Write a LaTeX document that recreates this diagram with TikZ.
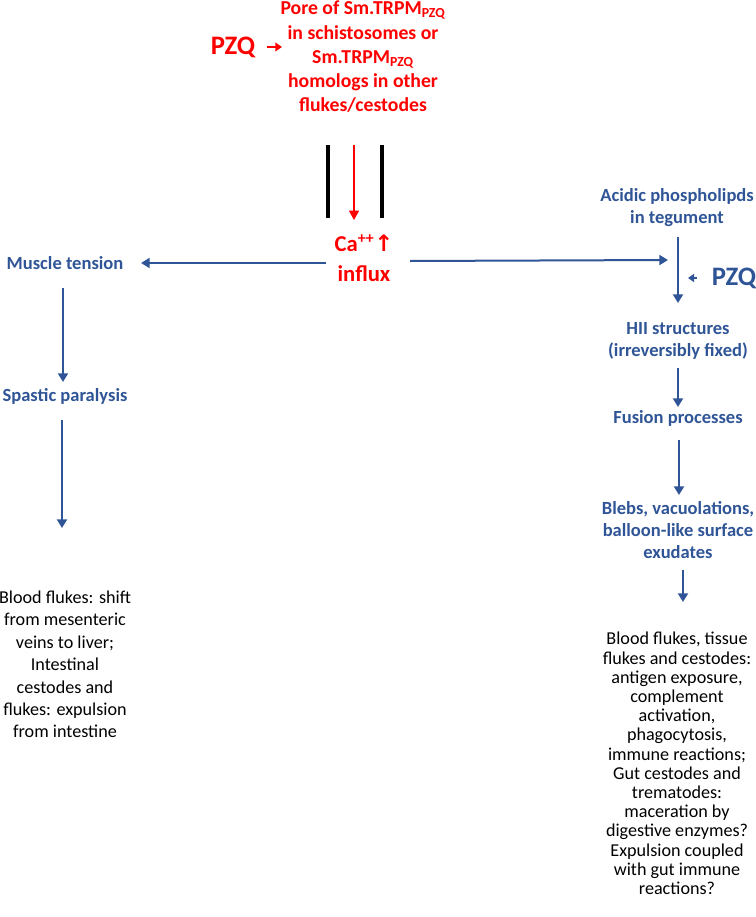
\documentclass[tikz,border=0pt]{standalone}
\usepackage{fontspec}
\setmainfont{Carlito}
\newfontfamily\dejavu{DejaVu Sans}
\usetikzlibrary{arrows.meta,calc}
\definecolor{myblue}{HTML}{2F5597}
\definecolor{myred}{HTML}{FF0000}
\begin{document}
\begin{tikzpicture}[x=0.75pt,y=-0.75pt,
  bluelbl/.style={text=myblue, font=\bfseries\fontsize{13.9}{16.5}\selectfont, align=center, inner sep=0pt},
  redlbl/.style={text=myred, font=\bfseries\fontsize{14.8}{18.2}\selectfont, align=center, inner sep=0pt},
  bigpzq/.style={font=\bfseries\fontsize{20}{24}\selectfont, inner sep=0pt},
  lefttxt/.style={text=black, font=\fontsize{13.6}{16.8}\selectfont, align=center, inner sep=0pt},
  righttxt/.style={text=black, font=\fontsize{13.6}{14.4}\selectfont, align=center, inner sep=0pt},
  barrow/.style={draw=myblue, line width=1.5pt, -{Triangle[width=7.5pt,length=6.5pt]}},
  sbarrow/.style={draw=myblue, line width=1.5pt, -{Triangle[width=6pt,length=4.5pt]}},
  rarrow/.style={draw=myred, line width=1.1pt, -{Triangle[width=7.5pt,length=7pt]}},
  srarrow/.style={draw=myred, line width=1.5pt, -{Triangle[width=6.5pt,length=5pt]}},
  membrane/.style={draw=black, line width=2.5pt}
]
\useasboundingbox (0,0) rectangle (756,917);

% red top part
\node[bigpzq, text=myred] (pzq1) at (233,47) {PZQ};
\node[redlbl] (pore) at (363,57) {Pore of Sm.TRPM\textsubscript{PZQ}\\in schistosomes or\\Sm.TRPM\textsubscript{PZQ}\\homologs in other\\flukes/cestodes};
\draw[srarrow] ($(pzq1.center)+(34,0)$) -- ($(pzq1.center)+(49,0)$);

% membrane channel
\coordinate (m1t) at (328,145); \coordinate (m1b) at (328,218);
\coordinate (m2t) at (382,145); \coordinate (m2b) at (382,218);
\draw[membrane] (m1t) -- (m1b);
\draw[membrane] (m2t) -- (m2b);
\coordinate (rt1) at (354,145); \coordinate (rt2) at (354,220);
\draw[rarrow] (rt1) -- (rt2);

\node[redlbl, font=\bfseries\fontsize{17}{22.5}\selectfont] (ca) at (364,258) {Ca\textsuperscript{++}{\dejavu\bfseries ↑}\\influx};

% left branch
\node[bluelbl] (mt) at (65,263) {Muscle tension};
\node[bluelbl] (sp) at (65,396) {Spastic paralysis};
\node[lefttxt] (lt) at (65,664.5) {Blood flukes: shift\\from mesenteric\\veins to liver;\\Intestinal\\cestodes and\\flukes: expulsion\\from intestine};

\draw[barrow] ($(ca.center)+(-38,5)$) -- ($(mt.center)+(76,0)$);
\draw[barrow] ($(mt.center)+(-2,25)$) -- ($(sp.center)+(-2,-14)$);
\draw[barrow] ($(sp.center)+(-3,24)$) -- ($(lt.center)+(-3,-136.5)$);

% right branch
\node[bluelbl] (ap) at (677,207.5) {Acidic phospholipds\\in tegument};
\node[bigpzq, text=myblue] (pzq2) at (734,278) {PZQ};
\node[bluelbl] (hii) at (678,341) {HII structures\\(irreversibly fixed)};
\node[bluelbl] (fp) at (678,418) {Fusion processes};
\node[bluelbl] (bl) at (678,530.5) {Blebs, vacuolations,\\balloon-like surface\\exudates};
\node[righttxt] (rtx) at (677,763.5) {Blood flukes, tissue\\flukes and cestodes:\\antigen exposure,\\complement\\activation,\\phagocytosis,\\immune reactions;\\Gut cestodes and\\trematodes:\\maceration by\\digestive enzymes?\\Expulsion coupled\\with gut immune\\reactions?};

\coordinate (hend) at (668,260);
\draw[barrow] ($(ca.center)+(46,3)$) -- (hend);
\draw[barrow] ($(ap.center)+(1,29.5)$) -- ($(hii.center)+(0,-38)$);
\draw[sbarrow] ($(pzq2.center)+(-37,0)$) -- ($(pzq2.center)+(-46,0)$);
\draw[barrow] ($(hii.center)+(0,27)$) -- ($(fp.center)+(0,-11)$);
\draw[barrow] ($(fp.center)+(1,22)$) -- ($(bl.center)+(1,-35.5)$);
\draw[barrow] ($(bl.center)+(5,39.5)$) -- ($(rtx.center)+(6,-161.5)$);
\end{tikzpicture}
\end{document}
